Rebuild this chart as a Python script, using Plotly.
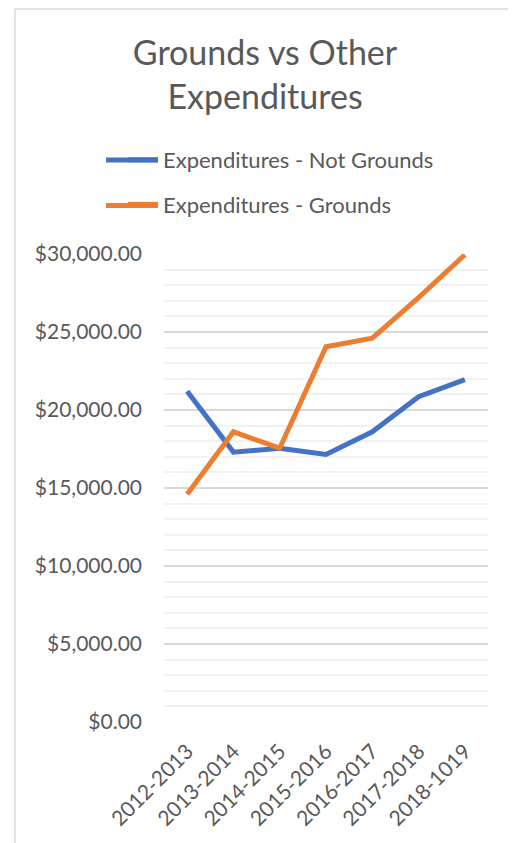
import plotly.graph_objects as go

years = ["2012-2013", "2013-2014", "2014-2015", "2015-2016",
         "2016-2017", "2017-2018", "2018-1019"]
not_grounds = [21200, 17300, 17550, 17150, 18600, 20850, 21950]
grounds = [14600, 18600, 17550, 24050, 24600, 27200, 29950]
colors = ['#4472C4', '#ED7D31']

# page body adds an 8px offset, so the figure is drawn 8px smaller
OFF = 8
W, H = 516 - OFF, 843 - OFF
ml, mr, mt, mb = 156, 28, 246, 121
pw, ph = W - ml - mr, H - mt - mb

def px_x(p):  # screen x -> paper
    return (p - OFF - ml) / pw

def px_y(p):  # screen y -> paper
    return (H - mb - (p - OFF)) / ph

fig = go.Figure()
fig.add_trace(go.Scatter(x=years, y=not_grounds, mode='lines',
                         name='Expenditures - Not Grounds', legendgroup='a',
                         line=dict(color=colors[0], width=5)))
fig.add_trace(go.Scatter(x=years, y=grounds, mode='lines',
                         name='Expenditures - Grounds', legendgroup='b',
                         line=dict(color=colors[1], width=5)))

# chart frame (left and top edges visible)
fig.add_shape(type='rect', xref='paper', yref='paper',
              x0=px_x(15), x1=px_x(560), y0=px_y(900), y1=px_y(9),
              line=dict(color='#d9d9d9', width=1.5), layer='below')

# longer legend keys, as in the original
for c, yy in zip(colors, [160, 205.5]):
    fig.add_shape(type='line', xref='paper', yref='paper',
                  x0=px_x(106), x1=px_x(158), y0=px_y(yy), y1=px_y(yy),
                  line=dict(color=c, width=5))

fig.update_layout(
    width=W, height=H,
    margin=dict(l=ml, r=mr, t=mt, b=mb, autoexpand=False),
    paper_bgcolor='white', plot_bgcolor='white',
    font=dict(family='Lato, Open Sans, sans-serif', color='#595959'),
    title=dict(text='Grounds vs Other<br>Expenditures', x=(265 - OFF) / W, xanchor='center',
               y=1 - 57 / H, yanchor='top', yref='container',
               font=dict(size=34, color='#595959')),
    legend=dict(x=px_x(123), xanchor='left', y=px_y(139), yanchor='top',
                font=dict(size=22, color='#595959'), traceorder='grouped',
                tracegroupgap=13, bgcolor='rgba(0,0,0,0)'),
    xaxis=dict(type='category', range=[-0.5, 6.5], tickangle=-45,
               showgrid=False, showline=False, zeroline=False, automargin=False,
               ticklabelstandoff=12,
               tickfont=dict(size=21, color='#595959')),
    yaxis=dict(range=[0, 30000], dtick=5000, tickformat='$,.2f',
               showgrid=True, gridcolor='#d9d9d9', gridwidth=1.5,
               zeroline=False, showline=False, ticklabelstandoff=21, automargin=False,
               minor=dict(dtick=1000, showgrid=True, gridcolor='#f2f2f2', gridwidth=1.5),
               tickfont=dict(size=21, color='#595959')),
)

fig.write_html("out.html")
